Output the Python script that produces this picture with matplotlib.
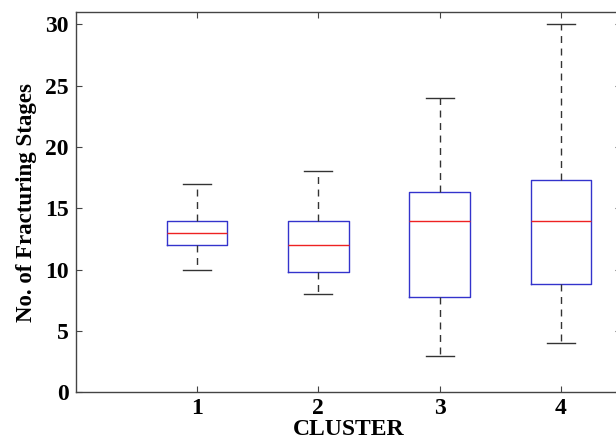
import matplotlib
matplotlib.use('Agg')
import matplotlib.pyplot as plt

clusters = [1, 2, 3, 4]
whislo = [10, 8, 3, 4]
q1 = [12, 9.8, 7.8, 8.8]
med = [13, 12, 14, 14]
q3 = [14, 14, 16.3, 17.3]
whishi = [17, 18, 24, 30]

plt.rcParams['font.family'] = 'Liberation Serif'
plt.rcParams['font.weight'] = 'bold'

stats = [dict(label=str(c), whislo=lo, q1=a, med=m, q3=b, whishi=hi, fliers=[])
         for c, lo, a, m, b, hi in zip(clusters, whislo, q1, med, q3, whishi)]

fig = plt.figure(figsize=(6.16, 4.41), dpi=100)
ax = fig.add_axes([0.1229, 0.1104, 0.886, 0.8624])

ax.bxp(stats, positions=clusters, widths=0.5, showfliers=False,
       boxprops=dict(color='#3333cc', linewidth=1.0),
       medianprops=dict(color='#ee2222', linewidth=1.0),
       whiskerprops=dict(color='#333333', linewidth=1.0, linestyle=(0, (5, 4))),
       capprops=dict(color='#333333', linewidth=1.0),
       capwidths=0.23)

ax.set_xlim(0, 4.5)
ax.set_ylim(0, 31)
ax.set_yticks([0, 5, 10, 15, 20, 25, 30])
ax.set_xticks(clusters)
ax.set_xticklabels([str(c) for c in clusters])
for s in ax.spines.values():
    s.set_color('#444444')
    s.set_linewidth(1.0)
ax.tick_params(direction='in', length=4, width=0.8, color='#444444',
               top=True, right=True, labelsize=17)
ax.tick_params(axis='x', pad=4)
ax.tick_params(axis='y', pad=5)
ax.set_ylabel('No. of Fracturing Stages', fontsize=16.5, fontweight='bold', labelpad=6)
ax.set_xlabel('CLUSTER', fontsize=17, fontweight='bold', labelpad=0)

fig.savefig('out.png', dpi=100)
